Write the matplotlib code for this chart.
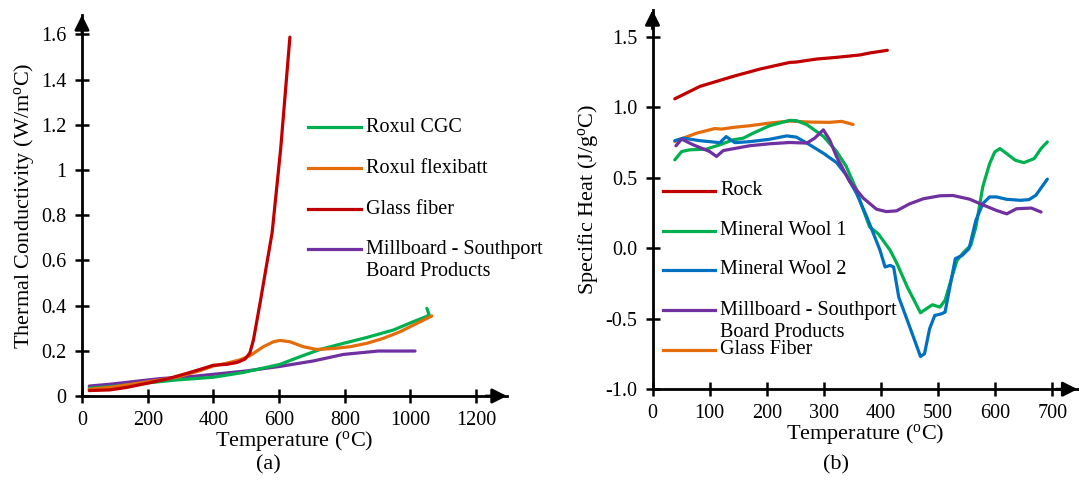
import matplotlib
matplotlib.use("Agg")
import matplotlib.pyplot as plt
from matplotlib.lines import Line2D

# ---------------- data: panel (a) thermal conductivity ----------------
cgc_T = [22, 85, 187, 288, 400, 491, 603, 664, 725, 796, 867, 948, 1009, 1049, 1057, 1050]
cgc_k = [0.034, 0.041, 0.056, 0.071, 0.083, 0.104, 0.140, 0.174, 0.206, 0.233, 0.259, 0.292, 0.329, 0.352, 0.360, 0.388]

flex_T = [22, 85, 187, 288, 359, 400, 440, 481, 511, 552, 583, 603, 633, 674, 714, 765, 816, 867, 917, 968, 1019, 1065]
flex_k = [0.030, 0.038, 0.060, 0.083, 0.112, 0.133, 0.145, 0.160, 0.178, 0.218, 0.240, 0.246, 0.240, 0.218, 0.206, 0.210, 0.218, 0.233, 0.255, 0.284, 0.321, 0.354]

glass_T = [22, 85, 136, 197, 258, 319, 369, 400, 440, 471, 496, 511, 522, 542, 579, 605, 633]
glass_k = [0.024, 0.027, 0.038, 0.056, 0.075, 0.100, 0.122, 0.136, 0.140, 0.148, 0.163, 0.190, 0.248, 0.410, 0.724, 1.095, 1.588]

mill_T = [22, 85, 146, 238, 339, 400, 501, 603, 704, 796, 902, 1014]
mill_k = [0.044, 0.052, 0.062, 0.077, 0.087, 0.096, 0.111, 0.131, 0.155, 0.184, 0.199, 0.199]

# ---------------- data: panel (b) specific heat ----------------
rock_T = [39, 83, 141, 188, 240, 252, 287, 322, 363, 380, 411]
rock_c = [1.060, 1.148, 1.219, 1.271, 1.318, 1.321, 1.342, 1.354, 1.371, 1.385, 1.404]

mw1_T = [39, 51, 65, 94, 118, 141, 159, 176, 205, 240, 252, 270, 299, 322, 339, 357,
         365, 380, 395, 416, 428, 446, 458, 469, 479, 490, 503, 512, 524, 533, 545, 557,
         566, 578, 590, 599, 608, 620, 635, 650, 668, 680, 691]
mw1_c = [0.627, 0.686, 0.698, 0.703, 0.734, 0.769, 0.781, 0.816, 0.869, 0.907, 0.905, 0.877, 0.794, 0.688, 0.581, 0.415,
         0.316, 0.151, 0.103, -0.015, -0.110, -0.276, -0.370, -0.458, -0.430, -0.401, -0.418, -0.370, -0.205, -0.086, -0.027, 0.020,
         0.151, 0.435, 0.600, 0.683, 0.707, 0.671, 0.624, 0.607, 0.636, 0.707, 0.754]

mw2_T = [39, 54, 83, 118, 129, 144, 170, 205, 235, 252, 275, 299, 322, 339, 357, 375, 398,
         407, 416, 422, 431, 446, 461, 469, 476, 485, 494, 506, 512, 530, 542, 554, 566, 578,
         590, 602, 620, 644, 659, 671, 691]
mw2_c = [0.763, 0.781, 0.763, 0.749, 0.792, 0.749, 0.756, 0.773, 0.797, 0.788, 0.734, 0.674, 0.608, 0.520, 0.389, 0.223, -0.012,
         -0.133, -0.122, -0.133, -0.347, -0.512, -0.678, -0.768, -0.749, -0.571, -0.477, -0.465, -0.453, -0.074, -0.051, -0.003, 0.198, 0.316,
         0.364, 0.364, 0.347, 0.340, 0.345, 0.376, 0.490]

millb_T = [41, 51, 71, 100, 112, 124, 147, 170, 205, 240, 270, 284, 299, 310, 322, 345, 369, 392, 409,
           427, 450, 474, 503, 526, 555, 578, 602, 620, 637, 663, 680]
millb_c = [0.727, 0.774, 0.734, 0.686, 0.651, 0.693, 0.710, 0.727, 0.741, 0.750, 0.746, 0.781, 0.840, 0.769, 0.651, 0.473, 0.355, 0.277, 0.260,
           0.265, 0.315, 0.351, 0.372, 0.374, 0.348, 0.308, 0.268, 0.244, 0.280, 0.285, 0.257]

gf_T = [39, 54, 77, 109, 121, 141, 170, 205, 240, 275, 310, 331, 351]
gf_c = [0.757, 0.781, 0.816, 0.849, 0.845, 0.857, 0.869, 0.888, 0.902, 0.895, 0.893, 0.900, 0.878]

xticks_a = [0, 200, 400, 600, 800, 1000, 1200]
yticks_a = [0, 0.2, 0.4, 0.6, 0.8, 1.0, 1.2, 1.4, 1.6]
ylabels_a = ["0", "0.2", "0.4", "0.6", "0.8", "1", "1.2", "1.4", "1.6"]
xticks_b = [0, 100, 200, 300, 400, 500, 600, 700]
yticks_b = [-1.0, -0.5, 0.0, 0.5, 1.0, 1.5]
ylabels_b = ["-1.0", "-0.5", "0.0", "0.5", "1.0", "1.5"]

legend_a = ["Roxul CGC", "Roxul flexibatt", "Glass fiber", "Millboard - Southport\nBoard Products"]
legend_b = ["Rock", "Mineral Wool 1", "Mineral Wool 2", "Millboard - Southport\nBoard Products", "Glass Fiber"]

RED = "#C00000"
GREEN = "#00B050"
ORANGE = "#E46C0A"
PURPLE = "#7030A0"
BLUE = "#0070C0"

FONT = "Liberation Serif"
plt.rcParams["font.family"] = [FONT, "DejaVu Serif"]
plt.rcParams["mathtext.fontset"] = "custom"
plt.rcParams["mathtext.rm"] = FONT
plt.rcParams["mathtext.it"] = FONT + ":italic"
plt.rcParams["axes.unicode_minus"] = False

W, H = 1079, 499
fig = plt.figure(figsize=(W / 100, H / 100), dpi=100)
LW = 2.3
TICKFS = 14.5
LABELFS = 16


def px(x, y):
    return x / W, 1 - y / H


def setup(ax, xt, yt, ylabs):
    for s in ["top", "right"]:
        ax.spines[s].set_visible(False)
    for s in ["left", "bottom"]:
        ax.spines[s].set_linewidth(2.0)
        ax.spines[s].set_color("black")
    ax.set_xticks(xt)
    ax.set_xticklabels([str(v) for v in xt])
    ax.set_yticks(yt)
    ax.set_yticklabels(ylabs)
    ax.tick_params(direction="inout", length=10, width=1.8, labelsize=TICKFS, pad=6, color="black")
    ax.patch.set_alpha(0)
    # arrow heads
    ax.annotate("", xy=(1.0, 0), xytext=(0.95, 0), xycoords="axes fraction",
                arrowprops=dict(arrowstyle="-|>", color="black", lw=2.0, mutation_scale=22,
                                shrinkA=0, shrinkB=0), annotation_clip=False)
    ax.annotate("", xy=(0, 1.0), xytext=(0, 0.95), xycoords="axes fraction",
                arrowprops=dict(arrowstyle="-|>", color="black", lw=2.0, mutation_scale=22,
                                shrinkA=0, shrinkB=0), annotation_clip=False)


kw = dict(lw=LW, solid_capstyle="round", solid_joinstyle="round", clip_on=False)

# ---------------- panel (a) ----------------
l, r, t, b = 82, 507, 15, 396
axa = fig.add_axes([l / W, 1 - b / H, (r - l) / W, (b - t) / H])
setup(axa, xticks_a, yticks_a, ylabels_a)
axa.set_xlim(0, 1294)
axa.set_ylim(0, 1.686)
axa.plot(mill_T, mill_k, color=PURPLE, **kw)
axa.plot(cgc_T, cgc_k, color=GREEN, **kw)
axa.plot(flex_T, flex_k, color=ORANGE, **kw)
axa.plot(glass_T, glass_k, color=RED, **kw)
axa.set_xlabel(r"Temperature ($^{\mathrm{o}}$C)", fontsize=LABELFS, labelpad=-1)
axa.set_ylabel(r"Thermal Conductivity (W/m$^{\mathrm{o}}$C)", fontsize=LABELFS, labelpad=4)

# ---------------- panel (b) ----------------
l, r, t, b = 652.5, 1077.6, 10, 389.2
axb = fig.add_axes([l / W, 1 - b / H, (r - l) / W, (b - t) / H])
setup(axb, xticks_b, yticks_b, ylabels_b)
axb.set_xlim(0, 744)
axb.set_ylim(-1.0, 1.69)
axb.plot(rock_T, rock_c, color=RED, **kw)
axb.plot(gf_T, gf_c, color=ORANGE, **kw)
axb.plot(mw1_T, mw1_c, color=GREEN, **kw)
axb.plot(mw2_T, mw2_c, color=BLUE, **kw)
axb.plot(millb_T, millb_c, color=PURPLE, **kw)
axb.set_xlabel(r"Temperature ($^{\mathrm{o}}$C)", fontsize=LABELFS, labelpad=-1)
axb.set_ylabel(r"Specific Heat (J/g$^{\mathrm{o}}$C)", fontsize=LABELFS, labelpad=4)


# ---------------- manual legends ----------------
def legend(entries, colors, x0, x1, xt, ys):
    for lab, c, y in zip(entries, colors, ys):
        xa, ya = px(x0, y)
        xb, _ = px(x1, y)
        fig.add_artist(Line2D([xa, xb], [ya, ya], color=c, lw=LW, transform=fig.transFigure))
        xx, _ = px(xt, y)
        lines = lab.split("\n")
        fig.text(xx, ya, lines[0], ha="left", va="center", fontsize=TICKFS)
        if len(lines) > 1:
            fig.text(xx, px(0, y + 22.5)[1], lines[1], ha="left", va="center", fontsize=TICKFS)


legend(legend_a, [GREEN, ORANGE, RED, PURPLE], 308, 361, 366, [127.3, 168.3, 209, 249.3])
legend(legend_b, [RED, GREEN, BLUE, PURPLE, ORANGE], 662.7, 715, 720.5, [190.7, 230.7, 270, 310, 350])

# captions
fig.text(*px(268, 465), "(a)", ha="center", va="center", fontsize=LABELFS)
fig.text(*px(836, 465), "(b)", ha="center", va="center", fontsize=LABELFS)

fig.savefig("out.png", dpi=100)
